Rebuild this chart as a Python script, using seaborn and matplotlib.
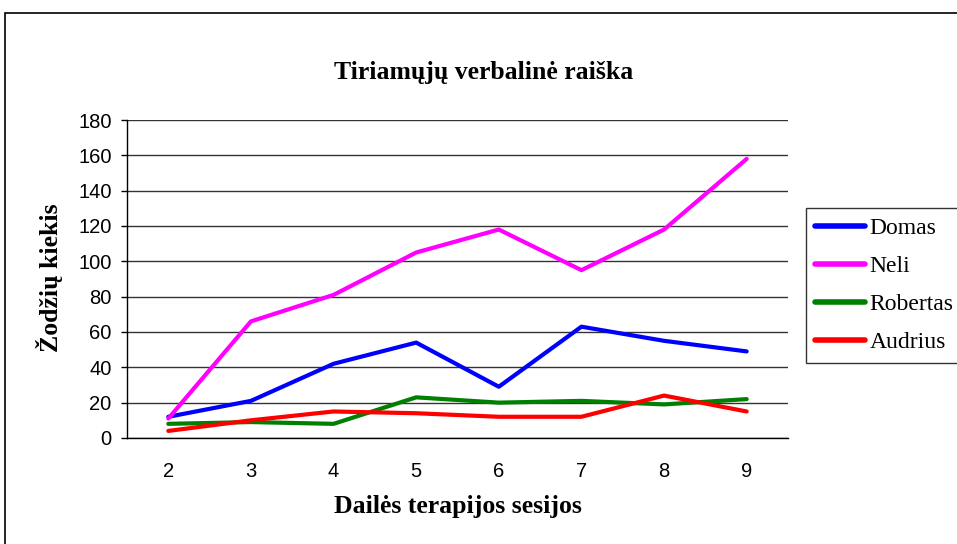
import matplotlib
matplotlib.use("Agg")
import matplotlib.pyplot as plt
from matplotlib.patches import Rectangle
import pandas as pd
import seaborn as sns

sessions = ["2", "3", "4", "5", "6", "7", "8", "9"]
domas = [12, 21, 42, 54, 29, 63, 55, 49]
neli = [11, 66, 81, 105, 118, 95, 118, 158]
robertas = [8, 9, 8, 23, 20, 21, 19, 22]
audrius = [4, 10, 15, 14, 12, 12, 24, 15]

names = ["Domas", "Neli", "Robertas", "Audrius"]
colors = ["#0000FF", "#FF00FF", "#008000", "#FF0000"]

df = pd.DataFrame({"sesija": sessions, "Domas": domas, "Neli": neli,
                   "Robertas": robertas, "Audrius": audrius})
long_df = df.melt(id_vars="sesija", var_name="vardas", value_name="kiekis")

sns.set_style("white")
plt.rcParams["text.color"] = "black"
plt.rcParams["xtick.color"] = "black"
plt.rcParams["ytick.color"] = "black"
serif = ["Liberation Serif", "DejaVu Serif"]

fig = plt.figure(figsize=(9.57, 5.44), dpi=100)
ax = fig.add_axes([0.1327, 0.1949, 0.6907, 0.5845])

sns.lineplot(data=long_df, x="sesija", y="kiekis", hue="vardas",
             hue_order=names, palette=colors, linewidth=3, sort=False,
             ax=ax)

ax.set_ylim(0, 180)
ax.set_yticks(range(0, 181, 20))
ax.set_xlim(-0.5, len(sessions) - 0.5)
ax.set_xticks(range(len(sessions)))
ax.set_xticklabels(sessions)
ax.set_xticks([i - 0.5 for i in range(len(sessions) + 1)], minor=True)
ax.tick_params(axis="x", which="major", length=0, pad=17)
ax.tick_params(axis="x", which="minor", length=5, width=1, color="black",
               direction="out")
ax.tick_params(axis="y", length=4, width=1, color="black", direction="out",
               left=True, pad=7)
for lab in ax.get_xticklabels() + ax.get_yticklabels():
    lab.set_fontfamily("Liberation Sans")
    lab.set_fontsize(14.5)
    lab.set_color("black")

ax.grid(axis="y", color="#333333", linewidth=1)
ax.set_axisbelow(True)
sns.despine(ax=ax, top=True, right=True)
for s in ["left", "bottom"]:
    ax.spines[s].set_color("black")
    ax.spines[s].set_linewidth(1)

ax.set_xlabel("")
ax.set_ylabel("")
fig.text(458 / 957, 1 - 507 / 544, "Dailės terapijos sesijos",
         fontfamily=serif, fontsize=18.5, fontweight="bold",
         ha="center", va="center")
fig.text(50 / 957, 1 - 278 / 544, "Žodžių kiekis", rotation=90,
         fontfamily=serif, fontsize=18.5, fontweight="bold",
         ha="center", va="center")
fig.text(484 / 957, 1 - 73 / 544, "Tiriamųjų verbalinė raiška",
         fontfamily=serif, fontsize=18.5, fontweight="bold",
         ha="center", va="center")

leg = ax.legend(loc="upper left", bbox_to_anchor=(806 / 957, 1 - 208 / 544),
                bbox_transform=fig.transFigure, frameon=True, fancybox=False,
                prop={"family": serif, "size": 17}, handlelength=2.1,
                handletextpad=0.2, labelspacing=0.7, borderaxespad=0,
                borderpad=0.4)
leg.get_frame().set_edgecolor("black")
leg.get_frame().set_linewidth(1)
for line in leg.get_lines():
    line.set_linewidth(4)

# outer chart frame
fig.patches.append(Rectangle((5 / 957, -0.1), 1.2, 1 - 13 / 544 + 0.1,
                             transform=fig.transFigure, fill=False,
                             edgecolor="black", linewidth=1.2, zorder=-1))

fig.savefig("out.png", dpi=100)
